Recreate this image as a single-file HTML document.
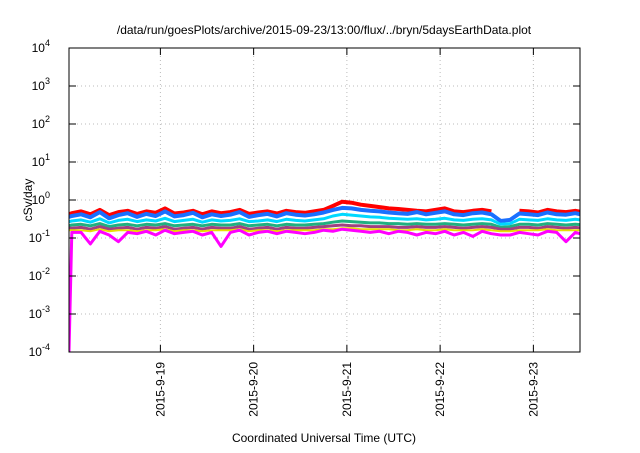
<!DOCTYPE html>
<html><head><meta charset="utf-8"><style>
body{margin:0;background:#fff;width:640px;height:448px;overflow:hidden}
text{font-family:"Liberation Sans",sans-serif;fill:#000}
</style></head><body>
<svg id="chart" width="640" height="448" xmlns="http://www.w3.org/2000/svg">
<defs><clipPath id="plotclip"><rect x="69" y="48" width="511" height="304"/></clipPath></defs>
<text x="324" y="34" font-size="12" text-anchor="middle">/data/run/goesPlots/archive/2015-09-23/13:00/flux/../bryn/5daysEarthData.plot</text>
<g id="grid"></g>
<g id="series" clip-path="url(#plotclip)"></g>
<rect x="69" y="48" width="511" height="304" fill="none" stroke="#000" stroke-width="1"/>
<g id="axes"></g>
<text transform="translate(32,200) rotate(-90)" font-size="12" text-anchor="middle">cSv/day</text>
<text x="324" y="442" font-size="12" text-anchor="middle">Coordinated Universal Time (UTC)</text>
</svg>
<script>
const times=[0.02,0.05,0.15,0.25,0.35,0.45,0.55,0.65,0.75,0.85,0.95,1.05,1.15,1.25,1.35,1.45,1.55,1.65,1.75,1.85,1.95,2.05,2.15,2.25,2.35,2.45,2.55,2.65,2.75,2.85,2.95,3.05,3.15,3.25,3.35,3.45,3.55,3.65,3.75,3.85,3.95,4.05,4.15,4.25,4.35,4.45,4.55,4.65,4.75,4.85,4.95,5.05,5.15,5.25,5.35,5.45,5.55];
const redValues=[0.42,0.45,0.5,0.42,0.55,0.4,0.48,0.52,0.43,0.5,0.46,0.6,0.44,0.47,0.52,0.42,0.5,0.45,0.48,0.55,0.43,0.47,0.5,0.44,0.52,0.48,0.46,0.5,0.55,0.7,0.9,0.85,0.75,0.7,0.65,0.6,0.58,0.55,0.52,0.5,0.55,0.6,0.5,0.48,0.52,0.55,0.5,null,null,0.52,0.5,0.47,0.55,0.5,0.48,0.52,0.47];
const blueValues=[0.36,0.38,0.42,0.35,0.48,0.33,0.4,0.45,0.36,0.43,0.38,0.5,0.37,0.4,0.46,0.35,0.42,0.38,0.41,0.48,0.36,0.4,0.43,0.37,0.45,0.41,0.39,0.42,0.47,0.55,0.62,0.6,0.55,0.52,0.5,0.47,0.45,0.43,0.48,0.42,0.46,0.5,0.42,0.4,0.45,0.47,0.42,0.28,0.3,0.44,0.42,0.4,0.47,0.42,0.41,0.45,0.4];
const cyanValues=[0.27,0.28,0.3,0.26,0.32,0.25,0.29,0.31,0.27,0.3,0.28,0.33,0.27,0.29,0.31,0.26,0.3,0.28,0.29,0.32,0.27,0.28,0.3,0.27,0.31,0.29,0.28,0.3,0.32,0.38,0.42,0.4,0.38,0.36,0.35,0.33,0.32,0.31,0.32,0.3,0.31,0.33,0.3,0.29,0.31,0.32,0.3,0.23,0.24,0.31,0.3,0.29,0.32,0.3,0.29,0.31,0.29];
const greenValues=[0.21,0.22,0.23,0.21,0.24,0.2,0.22,0.23,0.21,0.23,0.22,0.24,0.21,0.22,0.23,0.21,0.23,0.22,0.22,0.24,0.21,0.22,0.23,0.21,0.23,0.22,0.22,0.23,0.24,0.26,0.28,0.27,0.26,0.25,0.25,0.24,0.24,0.23,0.24,0.23,0.23,0.24,0.23,0.22,0.23,0.24,0.23,0.19,0.2,0.23,0.23,0.22,0.24,0.23,0.22,0.23,0.22];
const purpleValues=[0.18,0.18,0.19,0.17,0.2,0.17,0.18,0.19,0.17,0.19,0.18,0.2,0.17,0.18,0.19,0.17,0.19,0.18,0.18,0.2,0.17,0.18,0.19,0.17,0.19,0.18,0.18,0.19,0.2,0.21,0.22,0.21,0.21,0.2,0.2,0.2,0.19,0.19,0.2,0.19,0.19,0.2,0.19,0.18,0.19,0.2,0.19,0.17,0.17,0.19,0.19,0.18,0.2,0.19,0.18,0.19,0.18];
const yellowValues=[0.16,0.16,0.16,0.15,0.17,0.15,0.16,0.16,0.15,0.16,0.16,0.17,0.15,0.16,0.16,0.15,0.16,0.16,0.16,0.17,0.15,0.16,0.16,0.15,0.16,0.16,0.16,0.16,0.17,0.17,0.18,0.18,0.17,0.17,0.17,0.17,0.16,0.16,0.17,0.16,0.16,0.17,0.16,0.16,0.16,0.17,0.16,0.15,0.15,0.16,0.16,0.16,0.17,0.16,0.16,0.16,0.16];
const magentaValues=[0.0001,0.14,0.14,0.07,0.15,0.12,0.08,0.14,0.13,0.15,0.12,0.16,0.13,0.14,0.15,0.12,0.14,0.06,0.14,0.16,0.12,0.14,0.15,0.13,0.15,0.14,0.13,0.14,0.16,0.15,0.17,0.16,0.15,0.14,0.15,0.13,0.15,0.14,0.12,0.14,0.13,0.15,0.12,0.14,0.11,0.15,0.13,0.12,0.12,0.14,0.13,0.12,0.15,0.14,0.08,0.14,0.12];
const yTickExponents=[-4,-3,-2,-1,0,1,2,3,4];
const xTickLabels=["2015-9-19","2015-9-20","2015-9-21","2015-9-22","2015-9-23"];
const xTickDays=[1,2,3,4,5];

const NS="http://www.w3.org/2000/svg";
const L=69,R=580,T=48,B=352,X0=0.02,X1=5.5,Y0=-4,Y1=4;
const xs=d=>L+(d-X0)/(X1-X0)*(R-L);
const ys=v=>B-(Math.log10(v)-Y0)/(Y1-Y0)*(B-T);
function mk(tag,attrs,parent){const e=document.createElementNS(NS,tag);for(const k in attrs)e.setAttribute(k,attrs[k]);parent.appendChild(e);return e;}
const grid=document.getElementById('grid'),axes=document.getElementById('axes'),ser=document.getElementById('series');
yTickExponents.forEach(ex=>{
  const y=ys(Math.pow(10,ex));
  if(ex>Y0&&ex<Y1){const g=mk('line',{x1:L,x2:R,y1:y,y2:y,stroke:'#bbb','stroke-dasharray':'1,3'},grid);
  
  }
  const t1=mk('line',{x1:L,x2:L+7,y1:y,y2:y,stroke:'#000'},axes);
  
  
  const t2=mk('line',{x1:R-7,x2:R,y1:y,y2:y,stroke:'#000'},axes);
  
  
  const lb=mk('text',{x:50,y:y+4,'font-size':'12','text-anchor':'end'},axes);
  
  
  lb.textContent='10';
  const sp=mk('tspan',{dy:'-6','font-size':'9'},lb);sp.textContent=String(ex);
});
xTickDays.forEach((d,i)=>{
  const x=xs(d);
  const g=mk('line',{x1:x,x2:x,y1:T,y2:B,stroke:'#bbb','stroke-dasharray':'1,3'},grid);
  
  
  const t1=mk('line',{x1:x,x2:x,y1:B-7,y2:B,stroke:'#000'},axes);
  
  
  const t2=mk('line',{x1:x,x2:x,y1:T,y2:T+7,stroke:'#000'},axes);
  
  
  const lb=mk('text',{transform:`translate(${x+4},${B+10}) rotate(-90)`,'font-size':'12','text-anchor':'end'},axes);
  
  
  lb.textContent=xTickLabels[i];
});
const seriesList=[[redValues,'#ff0000','red',4],[blueValues,'#1a6fff','blue',4],[cyanValues,'#00d8ff','cyan',3],[greenValues,'#20b080','green',3],[purpleValues,'#a04080','purple',3],[yellowValues,'#e8e000','yellow',2],[magentaValues,'#ff00ff','magenta',3]];
seriesList.forEach(([vals,col,nm,w])=>{
  let d='',pen=false;
  vals.forEach((v,i)=>{if(v==null){pen=false;return;}d+=(pen?'L':'M')+xs(times[i]).toFixed(1)+','+ys(v).toFixed(1);pen=true;});
  const p=mk('path',{d:d,fill:'none',stroke:col,'stroke-width':w,'stroke-linejoin':'round'},ser);
  
  
});
</script>
</body></html>
